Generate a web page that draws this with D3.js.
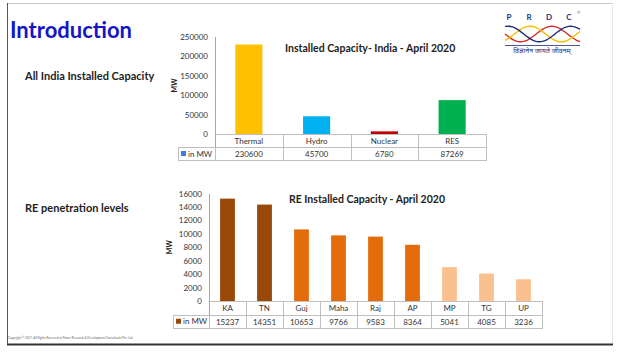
<!DOCTYPE html>
<html>
<head>
<meta charset="utf-8">
<title>Introduction</title>
<style>
    body { margin: 0; background: #fff; font-family: "Lato", "Open Sans", sans-serif; }
    svg text { fill: #222; }
    .cell { fill: none; stroke: #bfbfbf; stroke-width: 1; shape-rendering: crispEdges; }
    .axis-line { stroke: #a6a6a6; shape-rendering: crispEdges; }
</style>
<script src="https://d3js.org/d3.v7.min.js"></script>
</head>
<body>
<script>
// top chart
var indiaCats = ["Thermal", "Hydro", "Nuclear", "RES"];
var indiaValues = [230600, 45700, 6780, 87269];
var indiaColors = ["#ffc000", "#00b0f0", "#c00000", "#00b050"];
var indiaTicks = [0, 50000, 100000, 150000, 200000, 250000];

// bottom chart
var stateCats = ["KA", "TN", "Guj", "Maha", "Raj", "AP", "MP", "TG", "UP"];
var stateValues = [15237, 14351, 10653, 9766, 9583, 8364, 5041, 4085, 3236];
var stateColors = ["#984807", "#984807", "#e46c0a", "#e46c0a", "#e46c0a", "#e46c0a", "#fac090", "#fac090", "#fac090"];
var stateTicks = [0, 2000, 4000, 6000, 8000, 10000, 12000, 14000, 16000];

var svg = d3.select("body").append("svg")
    .attr("width", 617).attr("height", 353);

// slide frame
svg.append("line").attr("x1", 7).attr("x2", 612).attr("y1", 3.5).attr("y2", 3.5)
    .attr("stroke", "#c8c8c8");
svg.append("line").attr("x1", 7.5).attr("x2", 7.5).attr("y1", 3).attr("y2", 345)
    .attr("stroke", "#555");
svg.append("line").attr("x1", 612.5).attr("x2", 612.5).attr("y1", 3).attr("y2", 345)
    .attr("stroke", "#e6e6e6");
svg.append("line").attr("x1", 7).attr("x2", 613).attr("y1", 344.5).attr("y2", 344.5)
    .attr("stroke", "#333").attr("stroke-width", 2);

svg.append("text").attr("x", 10).attr("y", 38)
    .style("font-size", "22px").style("font-weight", "bold")
    .style("fill", "#1515c8").text("Introduction");
svg.append("text").attr("x", 25).attr("y", 80)
    .style("font-size", "11px").style("font-weight", "bold")
    .text("All India Installed Capacity");
svg.append("text").attr("x", 25).attr("y", 212)
    .style("font-size", "11px").style("font-weight", "bold")
    .text("RE penetration levels");
svg.append("text").attr("x", 8).attr("y", 339)
    .style("font-size", "3px").style("fill", "#666")
    .text("Copyright © 2017. All Rights Reserved at Power Research & Development Consultants Pvt. Ltd.");

// logo
var logo = svg.append("g");
["P", "R", "D", "C"].forEach(function (l, i) {
    logo.append("text").attr("x", 509 + i * 20).attr("y", 20)
        .attr("text-anchor", "middle")
        .style("font-size", "8px").style("font-weight", "bold")
        .style("fill", "#1f2f7a").text(l);
});
logo.append("text").attr("x", 577).attr("y", 14).style("font-size", "4px")
    .style("fill", "#1f2f7a").text("®");
var waveX = d3.scaleLinear().domain([0, 1]).range([505, 580]);
var wave = d3.line()
    .x(function (d) { return waveX(d[0]); })
    .y(function (d) { return d[1]; })
    .curve(d3.curveBasis);
[["#d62728", 0], ["#f2c200", Math.PI * 0.7], ["#1f2f7a", Math.PI * 1.4]].forEach(function (w) {
    var pts = d3.range(0, 1.001, 0.05).map(function (t) {
        return [t, 34 + 8 * Math.sin(t * Math.PI * 2.4 + w[1])];
    });
    logo.append("path").attr("d", wave(pts)).attr("fill", "none")
        .attr("stroke", w[0]).attr("stroke-width", 1.4);
});
logo.append("line").attr("x1", 505).attr("x2", 580).attr("y1", 45.5).attr("y2", 45.5)
    .attr("stroke", "#1f2f7a").attr("stroke-width", 0.8);
logo.append("text").attr("x", 542).attr("y", 53).attr("text-anchor", "middle")
    .style("font-size", "7px").style("fill", "#1f2f7a")
    .style("font-family", "'Noto Sans Devanagari', 'Noto Sans', sans-serif")
    .text("विज्ञानेन जायते जीवनम्");

function drawChart(opt) {
    var g = svg.append("g");
    var x = d3.scaleBand().domain(opt.cats).range([opt.left, opt.right]).paddingInner(0).paddingOuter(0);
    var y = d3.scaleLinear().domain([0, d3.max(opt.ticks)]).range([opt.base, opt.top]);
    var bw = x.bandwidth() * 0.4;

    var yAxis = d3.axisLeft(y).tickValues(opt.ticks).tickSize(0).tickPadding(7)
        .tickFormat(d3.format("d"));
    var ag = g.append("g").attr("transform", "translate(" + opt.left + ",0)").call(yAxis);
    ag.select(".domain").remove();
    ag.selectAll("text").style("font-size", "8px").style("fill", "#333")
        .style("font-family", "'Lato', sans-serif");

    g.append("text")
        .attr("transform", "translate(" + opt.mwX + "," + ((opt.base + opt.top) / 2) + ") rotate(-90)")
        .attr("text-anchor", "middle").style("font-size", "7px").style("font-weight", "bold")
        .text("MW");

    g.selectAll("rect.bar").data(opt.values).enter().append("rect")
        .attr("class", "bar")
        .attr("x", function (d, i) { return x(opt.cats[i]) + (x.bandwidth() - bw) / 2; })
        .attr("width", bw)
        .attr("y", function (d) { return y(d); })
        .attr("height", function (d) { return opt.base - y(d); })
        .attr("fill", function (d, i) { return opt.colors[i]; });

    // data table
    var rh = opt.rowH;
    g.selectAll("rect.c1").data(opt.cats).enter().append("rect").attr("class", "cell")
        .attr("x", function (d) { return x(d) + 0.5; }).attr("y", opt.base + 0.5)
        .attr("width", x.bandwidth()).attr("height", rh);
    g.selectAll("rect.c2").data(opt.cats).enter().append("rect").attr("class", "cell")
        .attr("x", function (d) { return x(d) + 0.5; }).attr("y", opt.base + rh + 0.5)
        .attr("width", x.bandwidth()).attr("height", rh);
    g.append("rect").attr("class", "cell")
        .attr("x", opt.legendX + 0.5).attr("y", opt.base + rh + 0.5)
        .attr("width", opt.left - opt.legendX).attr("height", rh);

    g.selectAll("text.cat").data(opt.cats).enter().append("text")
        .attr("x", function (d) { return x(d) + x.bandwidth() / 2; })
        .attr("y", opt.base + rh / 2 + 3.5).attr("text-anchor", "middle")
        .style("font-size", "8px").style("fill", "#333").text(function (d) { return d; });
    g.selectAll("text.val").data(opt.values).enter().append("text")
        .attr("x", function (d, i) { return x(opt.cats[i]) + x.bandwidth() / 2; })
        .attr("y", opt.base + rh * 1.5 + 3.5).attr("text-anchor", "middle")
        .style("font-size", "8px").style("fill", "#333").text(function (d) { return d; });

    g.append("rect").attr("x", opt.legendX + 3).attr("y", opt.base + rh * 1.5 - 2.5)
        .attr("width", 5).attr("height", 5).attr("fill", opt.legendColor);
    g.append("text").attr("x", opt.legendX + 10).attr("y", opt.base + rh * 1.5 + 3)
        .style("font-size", "8px").style("fill", "#333").text("in MW");

    g.append("line").attr("class", "axis-line")
        .attr("x1", opt.left + 0.5).attr("x2", opt.left + 0.5)
        .attr("y1", opt.top).attr("y2", opt.base + rh);

    g.append("text").attr("x", opt.titleX).attr("y", opt.titleY)
        .style("font-size", "10.5px").style("font-weight", "bold").text(opt.title);
}

drawChart({
    cats: indiaCats, values: indiaValues, colors: indiaColors, ticks: indiaTicks,
    left: 215, right: 486, top: 37, base: 134, rowH: 13, legendX: 178, mwX: 177,
    legendColor: "#3f7fd8", title: "Installed Capacity- India - April 2020",
    titleX: 285, titleY: 52
});

drawChart({
    cats: stateCats, values: stateValues, colors: stateColors, ticks: stateTicks,
    left: 209, right: 542, top: 193.5, base: 301, rowH: 13.5, legendX: 173, mwX: 172,
    legendColor: "#984807", title: "RE Installed Capacity - April 2020",
    titleX: 289, titleY: 203
});
</script>
</body>
</html>
